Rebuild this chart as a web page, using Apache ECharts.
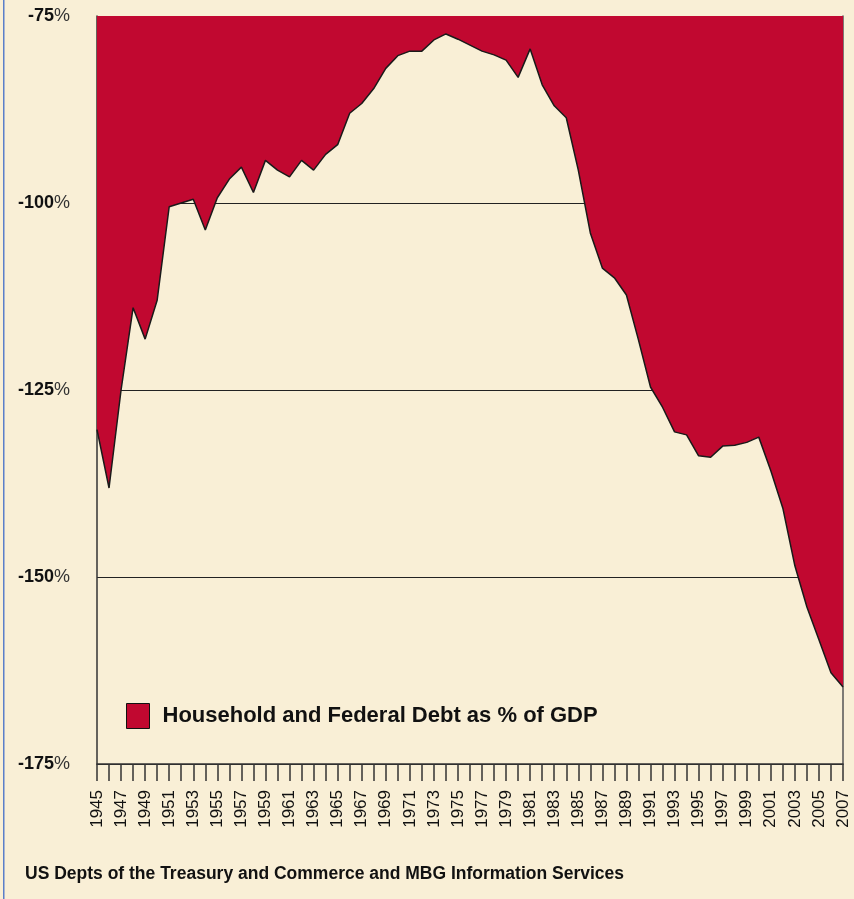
<!DOCTYPE html>
<html>
<head>
<meta charset="utf-8">
<script src="https://cdn.jsdelivr.net/npm/echarts@6/dist/echarts.min.js"></script>
<style>
  html, body { margin: 0; padding: 0; background: #f9efd6; }
  #chart { width: 854px; height: 899px; }
</style>
</head>
<body>
<div id="chart"></div>
<script>
// years on the x axis
const years = []
for (let y = 1945; y <= 2007; y++) years.push(String(y))

// household + federal debt as % of GDP (shown negative)
const debtPct = [
  -130.3, -138.1, -125.0, -114.0, -118.2, -113.0, -100.5, -100.0, -99.5, -103.6,
  -99.3, -96.8, -95.2, -98.6, -94.3, -95.6, -96.5, -94.3, -95.6, -93.5,
  -92.2, -88.0, -86.7, -84.7, -82.0, -80.3, -79.7, -79.7, -78.2, -77.4,
  -78.1, -78.9, -79.7, -80.2, -80.9, -83.2, -79.4, -84.2, -87.0, -88.6,
  -95.6, -104.0, -108.7, -110.0, -112.3, -118.3, -124.6, -127.3, -130.6, -131.0,
  -133.8, -134.0, -132.5, -132.4, -132.0, -131.3, -135.8, -140.8, -148.5, -154.0,
  -158.4, -162.8, -164.7
]

const seriesName = 'Household and Federal Debt as % of GDP'
const sourceText = 'US Depts of the Treasury and Commerce and MBG Information Services'

const chart = echarts.init(document.getElementById('chart'))
const font = '"Liberation Sans", Arial, sans-serif'

chart.setOption({
  backgroundColor: '#f9efd6',
  animation: false,
  textStyle: { fontFamily: font },
  grid: { left: 97, right: 11, top: 16, bottom: 135 },
  legend: {
    left: 126,
    top: 703,
    padding: 0,
    icon: 'rect',
    itemWidth: 23,
    itemHeight: 25,
    textStyle: {
      fontSize: 22,
      fontWeight: 'bold',
      color: '#111',
      fontFamily: font,
      padding: [0, 0, 0, 8]
    },
    itemStyle: { borderColor: '#111', borderWidth: 1 },
    data: [seriesName]
  },
  xAxis: {
    type: 'category',
    data: years,
    boundaryGap: false,
    axisLine: { lineStyle: { color: '#333', width: 1.5 } },
    axisTick: { interval: 0, length: 17, lineStyle: { color: '#333', width: 1.5 } },
    axisLabel: {
      interval: 1,
      rotate: 90,
      margin: 26,
      fontSize: 17,
      color: '#111',
      fontFamily: font
    },
    splitLine: { show: false }
  },
  yAxis: [
    {
      type: 'value',
      min: -175,
      max: -75,
      interval: 25,
      axisLine: { show: true, lineStyle: { color: '#333', width: 1.5 } },
      axisTick: { show: false },
      axisLabel: {
        margin: 27,
        color: '#111',
        fontFamily: font,
        formatter: v => '{n|' + v + '}{p|%}',
        rich: {
          n: { fontSize: 18, fontWeight: 'bold', color: '#111', fontFamily: font },
          p: { fontSize: 18, color: '#333', fontFamily: font }
        }
      },
      splitLine: { show: true, lineStyle: { color: '#222', width: 1 } }
    },
    {
      type: 'value',
      position: 'right',
      min: -175,
      max: -75,
      axisLine: { show: true, lineStyle: { color: '#555', width: 1.5 } },
      axisTick: { show: false },
      axisLabel: { show: false },
      splitLine: { show: false }
    }
  ],
  series: [
    {
      name: seriesName,
      type: 'line',
      data: debtPct,
      symbol: 'none',
      lineStyle: { color: '#1a1a1a', width: 1.5 },
      itemStyle: { color: '#c10830' },
      areaStyle: { origin: 'end', color: '#c10830', opacity: 1 },
      z: 3
    }
  ],
  graphic: [
    {
      type: 'rect',
      left: 3,
      top: 0,
      shape: { width: 1.5, height: 899 },
      style: { fill: '#5b7fc9' }
    },
    {
      type: 'text',
      left: 25,
      top: 865,
      style: {
        text: sourceText,
        fontSize: 17.5,
        fontWeight: 'bold',
        fill: '#111',
        fontFamily: font
      }
    }
  ]
})
</script>
</body>
</html>
